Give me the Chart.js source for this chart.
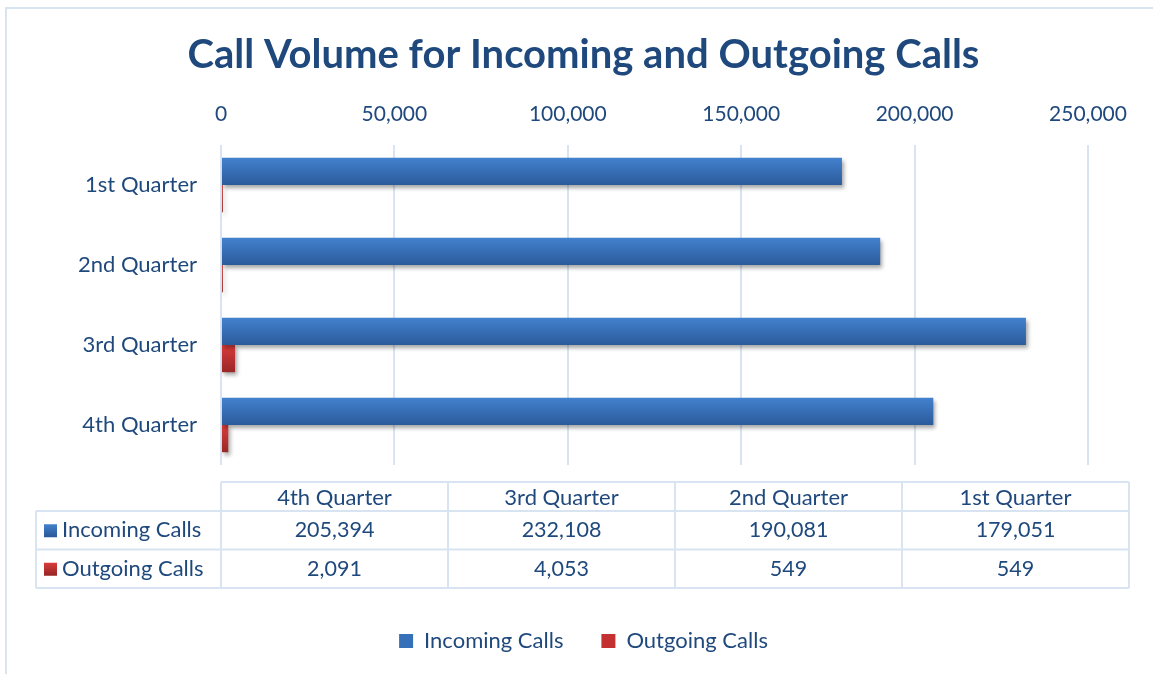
<!DOCTYPE html>
<html>
<head>
<meta charset="utf-8">
<script src="https://cdn.jsdelivr.net/npm/chart.js@4.4.1/dist/chart.umd.min.js"></script>
<style>
  html, body { margin: 0; padding: 0; background: #ffffff; }
  #wrap { position: absolute; left: 0; top: 0; width: 1153px; height: 674px; }
</style>
</head>
<body>
<div id="wrap"><canvas id="c" width="1153" height="674"></canvas></div>
<script>
// ---- data ----
const chartTitle = 'Call Volume for Incoming and Outgoing Calls';
const categories = ['1st Quarter', '2nd Quarter', '3rd Quarter', '4th Quarter'];
const seriesNames = ['Incoming Calls', 'Outgoing Calls'];
const incomingCalls = [179051, 190081, 232108, 205394];
const outgoingCalls = [549, 549, 4053, 2091];
const axisMax = 250000;
const axisStep = 50000;

// ---- style ----
const FONT = 'Lato, "Open Sans", sans-serif';
const TEXT = '#1F497D';
const GRID = '#D9E4F2';
const blueTop = '#4381CE', blueBot = '#2B5B9B';
const redTop = '#DA3C3A', redBot = '#992726';
const CAT_PCT = 0.68;

function barGradient(ctx, dsIndex) {
  const chart = ctx.chart;
  const y = chart.scales.y;
  const c2 = chart.ctx;
  if (!y || ctx.type !== 'data') {
    return dsIndex === 0 ? blueBot : redBot;
  }
  const center = y.getPixelForValue(ctx.dataIndex);
  const band = Math.abs(y.getPixelForValue(1) - y.getPixelForValue(0)) || 80;
  const h = band * CAT_PCT / 2;
  const top = dsIndex === 0 ? center - h : center;
  const g = c2.createLinearGradient(0, top, 0, top + h);
  if (dsIndex === 0) { g.addColorStop(0, blueTop); g.addColorStop(1, blueBot); }
  else { g.addColorStop(0, redTop); g.addColorStop(1, redBot); }
  return g;
}

const fmt = v => v.toLocaleString('en-US');

const framePlugin = {
  id: 'frame',
  beforeDraw(chart) {
    const c = chart.ctx;
    c.save();
    c.strokeStyle = GRID;
    c.lineWidth = 2;
    c.beginPath();
    c.moveTo(6, chart.height);
    c.lineTo(6, 8);
    c.lineTo(chart.width, 8);
    c.stroke();
    c.restore();
  }
};

const shadowPlugin = {
  id: 'barShadow',
  beforeDatasetsDraw(chart) {
    const c = chart.ctx;
    c.save();
    c.shadowColor = 'rgba(0,0,0,0.35)';
    c.shadowBlur = 4;
    c.shadowOffsetX = 2;
    c.shadowOffsetY = 3;
  },
  afterDatasetsDraw(chart) {
    chart.ctx.restore();
  }
};

const tablePlugin = {
  id: 'dataTable',
  afterDraw(chart) {
    const c = chart.ctx;
    const area = chart.chartArea;
    const left = area.left;
    const right = chart.width - 24;
    const labelLeft = 36;
    const colW = (right - left) / categories.length;
    const top = area.bottom + 17;
    const hHead = 29, hRow = 38.5;
    const r1 = top + hHead, r2 = r1 + hRow, r3 = r2 + hRow;
    const order = categories.map((_, i) => i).reverse();
    const rows = [incomingCalls, outgoingCalls];

    c.save();
    c.strokeStyle = GRID;
    c.lineWidth = 2;
    c.beginPath();
    c.moveTo(left, top); c.lineTo(right, top);
    c.moveTo(labelLeft, r1); c.lineTo(right, r1);
    c.moveTo(labelLeft, r2); c.lineTo(right, r2);
    c.moveTo(labelLeft, r3); c.lineTo(right, r3);
    c.moveTo(labelLeft, r1); c.lineTo(labelLeft, r3);
    for (let k = 0; k <= categories.length; k++) {
      const x = left + k * colW;
      c.moveTo(x, top); c.lineTo(x, r3);
    }
    c.stroke();

    c.fillStyle = TEXT;
    c.textBaseline = 'middle';
    c.textAlign = 'center';
    order.forEach((ci, k) => {
      const cx = left + k * colW + colW / 2;
      c.font = '22px ' + FONT;
      c.fillText(categories[ci], cx, top + hHead / 2 + 1);
      c.font = '21.5px ' + FONT;
      c.fillText(fmt(rows[0][ci]), cx, r1 + hRow / 2);
      c.fillText(fmt(rows[1][ci]), cx, r2 + hRow / 2);
    });
    c.textAlign = 'left';
    c.font = '22px ' + FONT;
    [[r1, blueTop, blueBot], [r2, redTop, redBot]].forEach(([ry, t, b], i) => {
      const cy = ry + hRow / 2;
      const g = c.createLinearGradient(0, cy - 6, 0, cy + 6);
      g.addColorStop(0, t); g.addColorStop(1, b);
      c.fillStyle = g;
      c.fillRect(44, cy - 6, 13, 13);
      c.fillStyle = TEXT;
      c.fillText(seriesNames[i], 62, cy);
    });
    c.restore();
  }
};

new Chart(document.getElementById('c'), {
  type: 'bar',
  data: {
    labels: categories,
    datasets: [
      {
        label: seriesNames[0],
        data: incomingCalls,
        backgroundColor: ctx => barGradient(ctx, 0),
        borderWidth: 0
      },
      {
        label: seriesNames[1],
        data: outgoingCalls,
        backgroundColor: ctx => barGradient(ctx, 1),
        borderWidth: 0
      }
    ]
  },
  options: {
    indexAxis: 'y',
    responsive: false,
    animation: false,
    layout: { padding: { top: 10, left: 14, right: 0, bottom: 12 } },
    datasets: { bar: { categoryPercentage: CAT_PCT, barPercentage: 1 } },
    scales: {
      x: {
        type: 'linear',
        position: 'top',
        min: 0,
        max: axisMax,
        ticks: {
          stepSize: axisStep,
          color: TEXT,
          font: { family: FONT, size: 21 },
          padding: 18,
          callback: v => fmt(v)
        },
        grid: { color: GRID, lineWidth: 2, drawTicks: false },
        border: { display: false },
        afterFit: s => { s.height = 66; }
      },
      xTable: {
        type: 'linear',
        axis: 'x',
        position: 'bottom',
        display: true,
        ticks: { display: false },
        grid: { display: false, drawTicks: false },
        border: { display: false },
        afterFit: s => { s.height = 127; }
      },
      y: {
        type: 'category',
        position: 'left',
        ticks: {
          color: TEXT,
          font: { family: FONT, size: 22 },
          padding: 24
        },
        grid: { display: false, drawTicks: false },
        border: { display: false },
        afterFit: s => { s.width = 207; }
      },
      yRight: {
        type: 'linear',
        axis: 'y',
        position: 'right',
        display: true,
        ticks: { display: false },
        grid: { display: false, drawTicks: false },
        border: { display: false },
        afterFit: s => { s.width = 65; }
      }
    },
    plugins: {
      title: {
        display: true,
        text: chartTitle,
        color: TEXT,
        font: { family: FONT, size: 40, weight: 'bold' },
        padding: { top: 21, bottom: 0 }
      },
      legend: {
        position: 'bottom',
        labels: {
          color: TEXT,
          font: { family: FONT, size: 22 },
          boxWidth: 14,
          boxHeight: 14,
          padding: 38,
          generateLabels: chart => seriesNames.map((n, i) => ({
            text: n,
            fillStyle: i === 0 ? '#3570B8' : '#C33231',
            strokeStyle: 'transparent',
            lineWidth: 0,
            fontColor: TEXT,
            datasetIndex: i,
            hidden: false
          }))
        }
      },
      tooltip: { enabled: false }
    }
  },
  plugins: [framePlugin, shadowPlugin, tablePlugin]
});
</script>
</body>
</html>
